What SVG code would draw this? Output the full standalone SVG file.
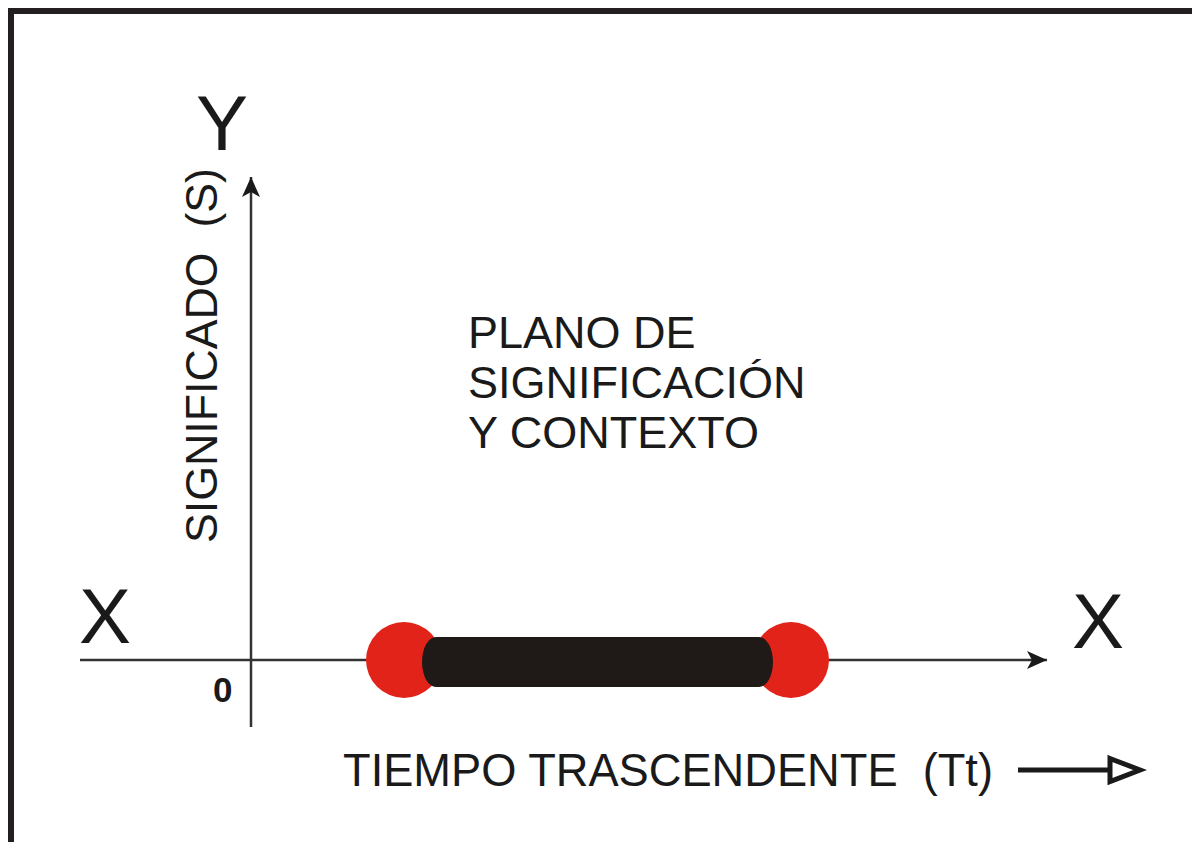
<svg xmlns="http://www.w3.org/2000/svg" width="1192" height="842" viewBox="0 0 1192 842">
<style>
.t{font-family:"Liberation Sans",Arial,sans-serif;fill:#1a1a1a}
.ax{stroke:#333;stroke-width:2.5;fill:none}
</style>
<defs>
<marker id="ah" viewBox="0 0 20 18" refX="20" refY="9" markerWidth="20" markerHeight="18" markerUnits="userSpaceOnUse" orient="auto">
<path d="M0,0 L20,9 L0,18 L5,9 Z" fill="#1a1a1a"/>
</marker>
</defs>
<rect width="1192" height="842" fill="#fff"/>
<g id="frame"><path d="M11,842 V11 H1192" fill="none" stroke="#231f20" stroke-width="6"/></g>
<g id="connectors">
<line class="ax" x1="251" y1="727" x2="251" y2="177" marker-end="url(#ah)"/>
<line class="ax" x1="80" y1="660" x2="1047" y2="660" marker-end="url(#ah)"/>
<line x1="1018" y1="770" x2="1110" y2="770" stroke="#1a1a1a" stroke-width="5"/>
<path d="M1110,758.5 L1140,770 L1110,781.5 Z" fill="#fff" stroke="#1a1a1a" stroke-width="5" stroke-linejoin="miter"/>
</g>
<g id="segment">
<circle cx="404" cy="660" r="38" fill="#e2231a"/>
<circle cx="791" cy="660" r="38" fill="#e2231a"/>
<rect x="422" y="637" width="351" height="50" rx="14" ry="25" fill="#1f1a17"/>
</g>
<g id="labels">
<text class="t" x="196" y="150" font-size="78">Y</text>
<text class="t" x="79" y="643" font-size="78">X</text>
<text class="t" x="1072" y="648" font-size="78">X</text>
<text class="t" x="213" y="702" font-size="35" font-weight="bold">0</text>
<text class="t" transform="translate(217,543) rotate(-90)" font-size="45" textLength="375" lengthAdjust="spacingAndGlyphs" xml:space="preserve">SIGNIFICADO  (S)</text>
<text class="t" x="468" y="348" font-size="45">PLANO DE</text>
<text class="t" x="468" y="398" font-size="45">SIGNIFICACIÓN</text>
<text class="t" x="468" y="448" font-size="45">Y CONTEXTO</text>
<text class="t" x="343" y="786" font-size="46" textLength="650" lengthAdjust="spacingAndGlyphs" xml:space="preserve">TIEMPO TRASCENDENTE  (Tt)</text>
</g>
</svg>
